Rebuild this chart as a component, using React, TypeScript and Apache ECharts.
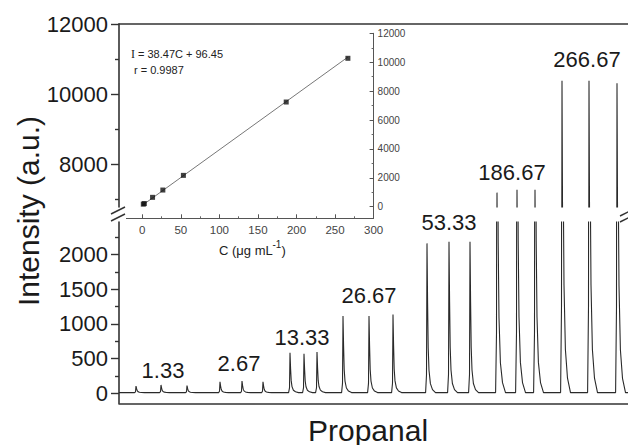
import React, { useEffect, useRef } from "react";
import * as echarts from "echarts";

// ---------- data ----------
const concLabels = ["1.33", "2.67", "13.33", "26.67", "53.33", "186.67", "266.67"];
// retention positions of the triplicate injections (arbitrary time units)
const peakTimes = [17, 42, 68, 101, 123, 144, 171, 185, 198, 224, 250, 274, 308, 330, 351, 378, 398, 416, 443, 470, 498];
// peak top intensities (a.u.)
const peakHeights = [105, 120, 110, 167, 177, 167, 585, 570, 595, 1114, 1114, 1134, 2160, 2185, 2185, 7190, 7270, 7270, 10380, 10380, 10310];
const baselineValue = 10;
const traceEnd = 509;

const insetConc = [1.33, 2.67, 13.33, 26.67, 53.33, 186.67, 266.67];
const insetIntensity = [180, 220, 650, 1155, 2170, 7245, 10270];
const fitSlope = 38.47;
const fitIntercept = 96.45;
const fitRange = [0, 266.67];

const upperTicks = [8000, 10000, 12000];
const upperMinor = [7000, 9000, 11000];
const lowerTicks = [0, 500, 1000, 1500, 2000];
const lowerMinor = [250, 750, 1250, 1750, 2250];
const insetXTicks = [0, 50, 100, 150, 200, 250, 300];
const insetXMinor = [25, 75, 125, 175, 225, 275];
const insetYTicks = [0, 2000, 4000, 6000, 8000, 10000, 12000];
const insetYMinor = [1000, 3000, 5000, 7000, 9000, 11000];

// ---------- peak rendering template (shape only) ----------
const profileOffsets = [-1.4, -0.5, 0, 0.6, 1.2, 2.0, 3.4, 5.5, 8.5];
const profileFractions = [0, 0.12, 1, 0.6, 0.3, 0.15, 0.06, 0.02, 0];

function buildTrace(): number[][] {
  const pts: number[][] = [[0, baselineValue]];
  peakTimes.forEach((t, i) => {
    const h = peakHeights[i];
    profileOffsets.forEach((o, k) => {
      pts.push([t + o, baselineValue + profileFractions[k] * (h - baselineValue)]);
    });
  });
  pts.push([traceEnd, baselineValue]);
  return pts;
}

// label layout (pixel positions of the concentration labels)
const labelPos = [
  [163, 370],
  [239, 363],
  [302, 337],
  [369, 295],
  [449, 222],
  [512, 172],
  [587, 59],
];

const FONT = "'Liberation Sans', Arial, Helvetica, sans-serif";
const AX = "#333";
const plain = (v: number) => String(v);

export default function App() {
  const ref = useRef<HTMLDivElement>(null);
  useEffect(() => {
    if (!ref.current) return;
    const chart = echarts.init(ref.current, null, { renderer: "svg" });
    const trace = buildTrace();
    const fitData = fitRange.map((c) => [c, fitSlope * c + fitIntercept]);

    const mainTickLabel = { fontSize: 22, color: "#1a1a1a", fontFamily: FONT, margin: 11, formatter: plain };
    const hidden = { show: false };

    const option: any = {
      animation: false,
      backgroundColor: "#fff",
      grid: [
        { left: 119, top: 24, right: 0, height: 183 },
        { left: 119, top: 222, right: 0, height: 181.3 },
        { left: 123, top: 33.3, width: 250.6, height: 185 },
      ],
      xAxis: [
        {
          gridIndex: 0, type: "value", min: 0, max: traceEnd, position: "top",
          axisLine: { show: true, onZero: false, lineStyle: { color: AX, width: 1.6 } },
          axisTick: hidden, axisLabel: hidden, splitLine: hidden,
        },
        {
          gridIndex: 1, type: "value", min: 0, max: traceEnd, position: "bottom",
          axisLine: { show: true, onZero: false, lineStyle: { color: AX, width: 1.6 } },
          axisTick: hidden, axisLabel: hidden, splitLine: hidden,
        },
        {
          gridIndex: 2, type: "value", min: -25, max: 300, position: "bottom",
          axisLine: { show: true, onZero: false, lineStyle: { color: "#555", width: 1 } },
          axisTick: { show: true, inside: true, length: 4, customValues: insetXTicks, lineStyle: { color: "#555" } },
          axisLabel: { show: true, customValues: insetXTicks, fontSize: 11.5, color: "#444", fontFamily: FONT, margin: 6, formatter: plain },
          splitLine: hidden,
        },
        {
          gridIndex: 2, type: "value", min: -25, max: 300, position: "bottom",
          axisLine: { show: false, onZero: false },
          axisTick: { show: true, inside: true, length: 2, customValues: insetXMinor, lineStyle: { color: "#666" } },
          axisLabel: hidden, splitLine: hidden,
        },
      ],
      yAxis: [
        {
          gridIndex: 0, type: "value", min: 6780, max: 12000, position: "left",
          axisLine: { show: true, onZero: false, lineStyle: { color: AX, width: 1.6 } },
          axisTick: { show: true, length: 8, customValues: upperTicks, lineStyle: { color: AX, width: 1.4 } },
          axisLabel: { show: true, customValues: upperTicks, ...mainTickLabel },
          splitLine: hidden,
        },
        {
          gridIndex: 0, type: "value", min: 6780, max: 12000, position: "left",
          axisLine: { show: false, onZero: false },
          axisTick: { show: true, length: 4, customValues: upperMinor, lineStyle: { color: AX, width: 1.4 } },
          axisLabel: hidden, splitLine: hidden,
        },
        {
          gridIndex: 1, type: "value", min: -144, max: 2468, position: "left",
          axisLine: { show: true, onZero: false, lineStyle: { color: AX, width: 1.6 } },
          axisTick: { show: true, length: 8, customValues: lowerTicks, lineStyle: { color: AX, width: 1.4 } },
          axisLabel: { show: true, customValues: lowerTicks, ...mainTickLabel },
          splitLine: hidden,
        },
        {
          gridIndex: 1, type: "value", min: -144, max: 2468, position: "left",
          axisLine: { show: false, onZero: false },
          axisTick: { show: true, length: 4, customValues: lowerMinor, lineStyle: { color: AX, width: 1.4 } },
          axisLabel: hidden, splitLine: hidden,
        },
        {
          gridIndex: 2, type: "value", min: -800, max: 12000, position: "right",
          axisLine: { show: true, onZero: false, lineStyle: { color: "#555", width: 1 } },
          axisTick: { show: true, inside: true, length: 4, customValues: insetYTicks, lineStyle: { color: "#555" } },
          axisLabel: { show: true, customValues: insetYTicks, fontSize: 10, color: "#444", fontFamily: FONT, margin: 4, formatter: plain },
          splitLine: hidden,
        },
        {
          gridIndex: 2, type: "value", min: -800, max: 12000, position: "right",
          axisLine: { show: false, onZero: false },
          axisTick: { show: true, inside: true, length: 2, customValues: insetYMinor, lineStyle: { color: "#666" } },
          axisLabel: hidden, splitLine: hidden,
        },
      ],
      series: [
        {
          type: "line", xAxisIndex: 0, yAxisIndex: 0, data: trace, symbol: "none", clip: true,
          lineStyle: { color: "#2a2a2a", width: 1.1 },
        },
        {
          type: "line", xAxisIndex: 1, yAxisIndex: 2, data: trace, symbol: "none", clip: true,
          lineStyle: { color: "#2a2a2a", width: 1.1 },
        },
        {
          type: "line", xAxisIndex: 2, yAxisIndex: 4, data: fitData, symbol: "none",
          lineStyle: { color: "#777", width: 1 }, z: 3,
        },
        {
          type: "scatter", xAxisIndex: 2, yAxisIndex: 4,
          data: insetConc.map((c, i) => [c, insetIntensity[i]]),
          symbol: "rect", symbolSize: 5, itemStyle: { color: "#111" }, z: 4,
        },
      ],
      graphic: [
        ...concLabels.map((t, i) => ({
          type: "text", x: labelPos[i][0], y: labelPos[i][1],
          style: { text: t, fontSize: 22, fontFamily: FONT, fill: "#1a1a1a", align: "center", verticalAlign: "middle" },
        })),
        {
          type: "text", x: 28, y: 211, rotation: Math.PI / 2,
          style: { text: "Intensity (a.u.)", fontSize: 30, fontFamily: FONT, fill: "#1a1a1a", align: "center", verticalAlign: "middle" },
        },
        {
          type: "text", x: 368, y: 430,
          style: { text: "Propanal", fontSize: 30, fontFamily: FONT, fill: "#1a1a1a", align: "center", verticalAlign: "middle" },
        },
        {
          type: "text", x: 131, y: 54,
          style: { text: "I", fontSize: 12, fontFamily: "'Liberation Serif', 'Times New Roman', serif", fill: "#222", align: "left", verticalAlign: "middle" },
        },
        {
          type: "text", x: 138, y: 54,
          style: { text: "= 38.47C + 96.45", fontSize: 11, fontFamily: FONT, fill: "#222", align: "left", verticalAlign: "middle" },
        },
        {
          type: "text", x: 134, y: 70,
          style: { text: "r = 0.9987", fontSize: 11, fontFamily: FONT, fill: "#222", align: "left", verticalAlign: "middle" },
        },
        {
          type: "text", x: 219, y: 250,
          style: { text: "C (μg mL", fontSize: 13, fontFamily: FONT, fill: "#222", align: "left", verticalAlign: "middle" },
        },
        {
          type: "text", x: 272.5, y: 244.5,
          style: { text: "-1", fontSize: 10, fontFamily: FONT, fill: "#222", align: "left", verticalAlign: "middle" },
        },
        {
          type: "text", x: 281.5, y: 250,
          style: { text: ")", fontSize: 13, fontFamily: FONT, fill: "#222", align: "left", verticalAlign: "middle" },
        },
        // axis-break marks
        { type: "rect", shape: { x: 110, y: 208, width: 16, height: 13 }, style: { fill: "#fff" }, z: 10 },
        { type: "line", shape: { x1: 111, y1: 214, x2: 125, y2: 207 }, style: { stroke: AX, lineWidth: 1.4 }, z: 11 },
        { type: "line", shape: { x1: 111, y1: 221, x2: 125, y2: 214 }, style: { stroke: AX, lineWidth: 1.4 }, z: 11 },
        { type: "line", shape: { x1: 620, y1: 216, x2: 630, y2: 211 }, style: { stroke: AX, lineWidth: 1.4 }, z: 11 },
        { type: "line", shape: { x1: 620, y1: 222, x2: 630, y2: 217 }, style: { stroke: AX, lineWidth: 1.4 }, z: 11 },
      ],
    };
    chart.setOption(option);
    return () => chart.dispose();
  }, []);
  return (
    <div
      ref={ref}
      style={{ position: "fixed", left: 0, top: 0, width: 628, height: 445, background: "#fff" }}
    />
  );
}
